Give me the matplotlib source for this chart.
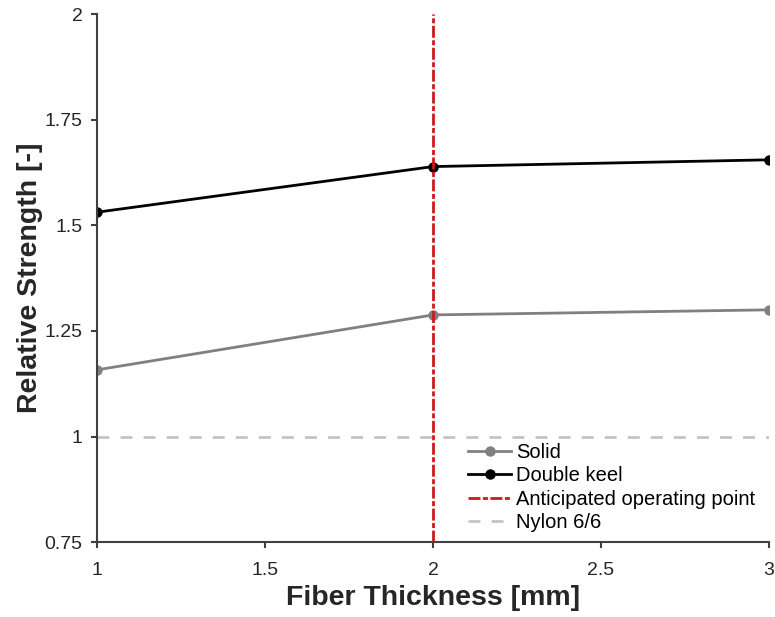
import matplotlib.pyplot as plt

plt.rcParams['font.family'] = ['Liberation Sans', 'DejaVu Sans']

# fiber thickness in mm and relative strength for each profile
thickness = [1, 2, 3]
solid = [1.158, 1.288, 1.300]
double_keel = [1.531, 1.639, 1.655]

operating_point = 2
nylon_reference = 1.0

x_ticks = [1, 1.5, 2, 2.5, 3]
x_tick_labels = ['1', '1.5', '2', '2.5', '3']
y_ticks = [0.75, 1, 1.25, 1.5, 1.75, 2]
y_tick_labels = ['0.75', '1', '1.25', '1.5', '1.75', '2']

spine_color = '#404040'

fig = plt.figure(figsize=(7.75, 6.17), dpi=100)
ax = fig.add_axes([0.1252, 0.1211, 0.8671, 0.8562])

ax.plot(thickness, solid, color='#808080', lw=2, marker='o', ms=6.5,
        label='Solid', zorder=3)
ax.plot(thickness, double_keel, color='black', lw=2, marker='o', ms=6.5,
        label='Double keel', zorder=4)
ax.axvline(operating_point, color='#cc1a1a', lw=2, linestyle=(0, (4.3, 0.9, 1.8, 0.9)),
           label='Anticipated operating point', zorder=5)
ax.axhline(nylon_reference, color='#c4c4c4', lw=2, linestyle=(0, (4.3, 4.0)),
           label='Nylon 6/6', zorder=1)

ax.set_xlim(1, 3)
ax.set_ylim(0.75, 2)
ax.set_xticks(x_ticks)
ax.set_xticklabels(x_tick_labels)
ax.set_yticks(y_ticks)
ax.set_yticklabels(y_tick_labels)

for side in ['top', 'right']:
    ax.spines[side].set_visible(False)
for side in ['left', 'bottom']:
    ax.spines[side].set_color(spine_color)
    ax.spines[side].set_linewidth(1.5)
ax.spines['left'].set_zorder(6)

ax.tick_params(direction='out', length=4.5, width=1.5, color=spine_color,
               labelsize=14, labelcolor='#262626')
ax.tick_params(axis='x', pad=10)
ax.tick_params(axis='y', pad=6)

ax.set_xlabel('Fiber Thickness [mm]', fontsize=20.5, fontweight='bold',
              color='#262626', labelpad=4)
ax.set_ylabel('Relative Strength [-]', fontsize=20.5, fontweight='bold',
              color='#262626', labelpad=1)

ax.legend(loc='lower right', bbox_to_anchor=(0.995, 0.0), frameon=False,
          fontsize=14.5, handlelength=2.15, handletextpad=0.25, labelspacing=0.22,
          borderaxespad=0.1)

fig.savefig('out.png', dpi=100)
